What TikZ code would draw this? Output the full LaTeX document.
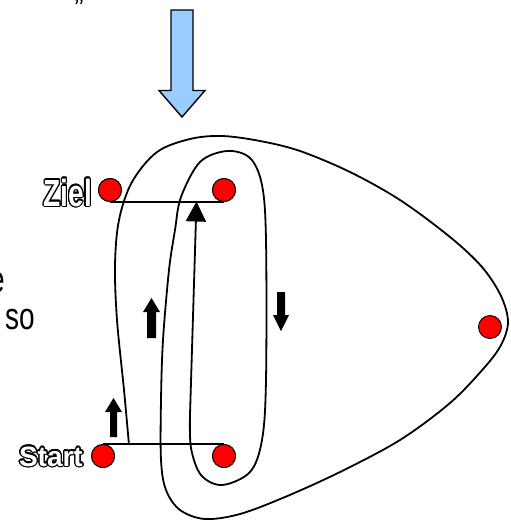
\documentclass[tikz,border=0pt]{standalone}
\usepackage{fontspec}
\usepackage{graphicx}
\setmainfont{Liberation Sans}
\usetikzlibrary{arrows.meta}

\definecolor{arrowblue}{HTML}{99CCFF}
\definecolor{dotred}{HTML}{FF0000}

\tikzset{
  dot/.style={circle, fill=dotred, draw=black, line width=0.9pt,
              minimum size=23pt, inner sep=0pt},
  route/.style={line width=1.8pt, draw=black},
  link/.style={line width=1.8pt, draw=black},
  blockarrow/.style={fill=black},
  bigarrow/.style={fill=arrowblue, draw=black, line width=1.4pt, line join=miter},
  lbl/.style={font=\fontsize{28}{30}\selectfont\bfseries, inner sep=0pt},
  plaintext/.style={font=\fontsize{28}{34}\selectfont, inner sep=0pt},
}

% white bold label with a thin black outline; #2 is "x,y"
\newcommand\outlinedlabel[4]{%
  \foreach \ang in {0,22.5,...,337.5}
    \node[lbl, text=black, anchor=#3] at ([shift={(\ang:1.3)}]#2) {#4};
  \node[lbl, text=white, anchor=#3] (#1) at (#2) {#4};
}
\newcommand\tallish[1]{\scalebox{1}[1.35]{#1}}

\begin{document}
\begin{tikzpicture}[x=1pt, y=-1pt]
  \useasboundingbox (0,0) rectangle (511,520);

  % text fragments at the left and top border
  \node[plaintext, anchor=base] (quote) at (79,17) {”};
  \node[plaintext, anchor=base east] (frag1) at (5,292) {\tallish{e}};
  \node[plaintext, anchor=base west] (frag2) at (5,329) {\tallish{so}};

  % large blue arrow pointing down
  \draw[bigarrow] (171,10) -- (193,10) -- (193,90.5) -- (205,90.5)
        -- (182,117) -- (159,90.5) -- (171,90.5) -- cycle;

  % points
  \node[dot] (zl) at (110,190) {};
  \node[dot] (zr) at (224,190) {};
  \node[dot] (sl) at (103,456) {};
  \node[dot] (sr) at (224,456) {};
  \node[dot] (rd) at (490,327) {};

  % connecting bars
  \draw[link] (zl.south) -- (zr.south);
  \draw[link] (sl.north) -- (sr.north);

  % route from the start bar to the goal bar
  \coordinate (rs) at (129,445);
  \coordinate (re) at (196.5,201.5);
  \draw[route, -{Triangle[width=20pt,length=20pt]}]
    plot[smooth, tension=0.55] coordinates {
      (rs) (124,390) (117,320) (115,265) (119,220) (132,182) (157,152)
      (190,139) (222,136) (260,141) (300,151) (350,172) (400,200)
      (450,237) (482,267) (501,296) (508,322) (501,345) (484,368)
      (450,403) (400,440) (340,472) (285,497) (240,514) (205,519)
      (180,510) (166,490) (161,460) (161,400)
      (163,340) (169,270) (175,230) (181,197) (200,162) (227,151)
      (250,158) (262,185) (266,240) (266,380) (262,440) (250,472)
      (222,485) (201,475) (191,448) (190,415)}
    -- (re);

  % redraw the dots above the bars
  \foreach \d in {zl,zr,sl,sr}
    \node[dot] at (\d) {};

  % direction marks
  \fill[blockarrow] (110,437) -- (110,412) -- (105,412) -- (113.5,398)
        -- (122,412) -- (117,412) -- (117,437) -- cycle;
  \fill[blockarrow] (147,338) -- (147,312) -- (143,312) -- (151.5,298)
        -- (160,312) -- (156,312) -- (156,338) -- cycle;
  \fill[blockarrow] (277,292) -- (285,292) -- (285,315) -- (289,315)
        -- (281,331) -- (273,315) -- (277,315) -- cycle;

  % labels
  \outlinedlabel{ziel}{92,206}{base east}{\tallish{Ziel}}
  \outlinedlabel{start}{83,466}{base east}{Start}
\end{tikzpicture}
\end{document}
